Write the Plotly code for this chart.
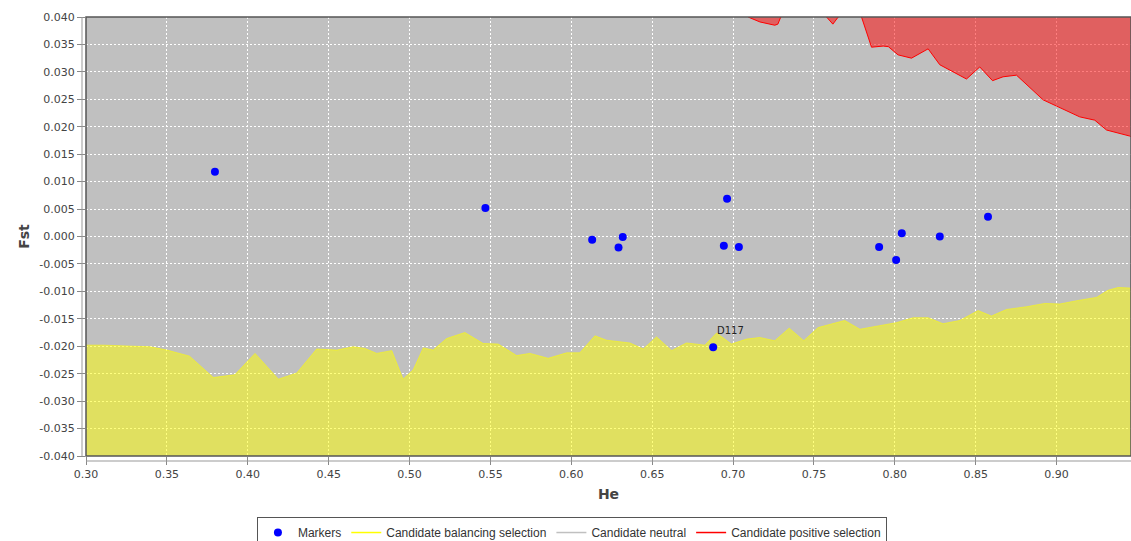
import plotly.graph_objects as go

# ---- data ----
marker_he = [0.3797, 0.5469, 0.6129, 0.6318, 0.6292, 0.6963, 0.6943, 0.7036, 0.6877,
             0.7903, 0.8008, 0.8043, 0.8278, 0.8576]
marker_fst = [0.0118, 0.0052, -0.0006, -0.0001, -0.0020, 0.0069, -0.0017, -0.0019, -0.0202,
              -0.0019, -0.0043, 0.0006, 0.0000, 0.0036]
marker_names = ["", "", "", "", "", "", "", "", "D117", "", "", "", "", ""]

bal_he = [0.300, 0.3105, 0.3396, 0.350, 0.364, 0.3787, 0.392, 0.4045, 0.4189, 0.4302,
          0.4426, 0.455, 0.4652, 0.4724, 0.4797, 0.489, 0.496, 0.5023, 0.5085, 0.5146,
          0.5229, 0.5342, 0.5455, 0.5548, 0.5662, 0.5744, 0.5857, 0.5971, 0.6053, 0.6146,
          0.6218, 0.6362, 0.6445, 0.6527, 0.662, 0.6712, 0.6826, 0.6898, 0.699, 0.7083,
          0.7165, 0.7258, 0.7347, 0.7437, 0.7526, 0.769, 0.7784, 0.7887, 0.801, 0.8113,
          0.8206, 0.8298, 0.8402, 0.8515, 0.8597, 0.869, 0.8814, 0.8927, 0.902, 0.9143,
          0.9247, 0.9318, 0.938, 0.946]
bal_fst = [-0.0198, -0.0198, -0.0201, -0.0207, -0.0218, -0.0257, -0.0252, -0.0213, -0.0260, -0.0249,
           -0.0205, -0.0207, -0.0201, -0.0204, -0.0213, -0.0208, -0.0260, -0.0243, -0.0203, -0.0207,
           -0.0186, -0.0175, -0.0195, -0.0196, -0.0217, -0.0213, -0.0222, -0.0212, -0.0212, -0.0181,
           -0.0189, -0.0194, -0.0205, -0.0183, -0.0208, -0.0194, -0.0198, -0.0176, -0.0196, -0.0187,
           -0.0184, -0.0190, -0.0167, -0.0190, -0.0166, -0.0153, -0.0169, -0.0163, -0.0157, -0.0148,
           -0.0148, -0.0159, -0.0153, -0.0135, -0.0145, -0.0133, -0.0128, -0.0122, -0.0123, -0.0116,
           -0.0111, -0.0098, -0.0093, -0.0094]

pos_he = [0.30, 0.40, 0.50, 0.60, 0.68, 0.707, 0.7093, 0.7166, 0.7258, 0.7277, 0.7295, 0.745,
          0.756, 0.7578, 0.7617, 0.765, 0.772, 0.7794, 0.7856, 0.7928, 0.796, 0.802, 0.8103,
          0.8206, 0.8278, 0.8443, 0.8525, 0.8604, 0.8669, 0.8752, 0.8917, 0.904, 0.9143,
          0.9236, 0.9309, 0.9453, 0.946]
pos_fst = [0.052, 0.050, 0.048, 0.046, 0.044, 0.0410, 0.0400, 0.0391, 0.0385, 0.0387, 0.0400, 0.0425,
           0.0405, 0.0400, 0.0387, 0.0400, 0.0420, 0.0400, 0.0345, 0.0347, 0.0346, 0.0331, 0.0325,
           0.0342, 0.0313, 0.0287, 0.0309, 0.0284, 0.0291, 0.0294, 0.0249, 0.0232, 0.0218,
           0.0212, 0.0194, 0.0183, 0.0182]

X_RANGE = [0.30, 0.946]
Y_RANGE = [-0.040, 0.040]
FLOOR = -0.06
CEIL = 0.06

x_ticks = [0.30, 0.35, 0.40, 0.45, 0.50, 0.55, 0.60, 0.65, 0.70, 0.75, 0.80, 0.85, 0.90]
x_tick_text = ["0.30", "0.35", "0.40", "0.45", "0.50", "0.55", "0.60", "0.65", "0.70",
               "0.75", "0.80", "0.85", "0.90"]
y_ticks = [-0.040, -0.035, -0.030, -0.025, -0.020, -0.015, -0.010, -0.005, 0.000,
           0.005, 0.010, 0.015, 0.020, 0.025, 0.030, 0.035, 0.040]
y_tick_text = ["-0.040", "-0.035", "-0.030", "-0.025", "-0.020", "-0.015", "-0.010", "-0.005",
               "0.000", "0.005", "0.010", "0.015", "0.020", "0.025", "0.030", "0.035", "0.040"]

fig = go.Figure()

# balancing selection area (yellow)
fig.add_trace(go.Scatter(x=[bal_he[0], bal_he[-1]], y=[FLOOR, FLOOR], mode="lines",
                         line=dict(width=0), showlegend=False, hoverinfo="skip"))
fig.add_trace(go.Scatter(x=bal_he, y=bal_fst, mode="lines", fill="tonexty",
                         fillcolor="rgba(255,255,0,0.5)",
                         line=dict(color="rgba(255,255,0,0.55)", width=1),
                         showlegend=False, hoverinfo="skip"))
# positive selection area (red)
fig.add_trace(go.Scatter(x=[pos_he[0], pos_he[-1]], y=[CEIL, CEIL], mode="lines",
                         line=dict(width=0), showlegend=False, hoverinfo="skip"))
fig.add_trace(go.Scatter(x=pos_he, y=pos_fst, mode="lines", fill="tonexty",
                         fillcolor="rgba(255,0,0,0.5)",
                         line=dict(color="#FF0000", width=1),
                         showlegend=False, hoverinfo="skip"))

# markers
fig.add_trace(go.Scatter(x=marker_he, y=marker_fst, mode="markers", name="Markers",
                         marker=dict(color="#0000FF", size=8), text=marker_names))

# legend entries
fig.add_trace(go.Scatter(x=[None], y=[None], mode="lines", name="Candidate balancing selection",
                         line=dict(color="#FFFF00", width=1.5)))
fig.add_trace(go.Scatter(x=[None], y=[None], mode="lines", name="Candidate neutral",
                         line=dict(color="#C0C0C0", width=1.5)))
fig.add_trace(go.Scatter(x=[None], y=[None], mode="lines", name="Candidate positive selection",
                         line=dict(color="#FF0000", width=1.5)))

# label for named markers
for hx, fy, nm in zip(marker_he, marker_fst, marker_names):
    if nm:
        fig.add_annotation(x=hx, y=fy, text=nm, showarrow=False, xanchor="left", yanchor="bottom",
                           xshift=2, yshift=9, font=dict(family="DejaVu Sans", size=10, color="#222"))

axis_font = dict(family="DejaVu Sans", size=11, color="#444")
fig.update_xaxes(range=X_RANGE, tickvals=x_ticks, ticktext=x_tick_text, tickfont=axis_font,
                 showgrid=True, gridcolor="white", griddash="2px,2px", gridwidth=1,
                 zeroline=False, showline=False, ticks="outside", ticklen=8, tickcolor="#888",
                 automargin=False,
                 title=dict(text="<b>He</b>", font=dict(family="DejaVu Sans", size=14, color="#444"),
                            standoff=8))
fig.update_yaxes(range=Y_RANGE, tickvals=y_ticks, ticktext=y_tick_text, tickfont=axis_font,
                 showgrid=True, gridcolor="white", griddash="2px,2px", gridwidth=1,
                 zeroline=False, showline=False, ticks="outside", ticklen=8, tickcolor="#888",
                 automargin=False,
                 title=dict(text="<b>Fst</b>", font=dict(family="DejaVu Sans", size=14, color="#444"),
                            standoff=6))

# plot border and offset axis lines
fig.add_shape(type="rect", xref="paper", yref="paper", x0=0, x1=1, y0=0, y1=1,
              line=dict(color="#555555", width=1.5), layer="above")
fig.add_shape(type="line", xref="paper", yref="paper", x0=-4/1045, x1=-4/1045, y0=0, y1=1,
              line=dict(color="#999999", width=1))
fig.add_shape(type="line", xref="paper", yref="paper", x0=0, x1=1, y0=-5/439, y1=-5/439,
              line=dict(color="#999999", width=1))

fig.update_layout(
    width=1131, height=541,
    margin=dict(l=86, r=0, t=17, b=85, autoexpand=False),
    paper_bgcolor="white", plot_bgcolor="#C0C0C0",
    showlegend=True,
    legend=dict(orientation="h", x=0.465, xanchor="center", y=-0.139, yanchor="top",
                bgcolor="white", bordercolor="#555555", borderwidth=1,
                font=dict(family="Liberation Sans", size=12, color="#333"),
                itemwidth=30, tracegroupgap=0, traceorder="normal"),
)

fig.write_html("out.html", config={"displayModeBar": False},
               post_script="document.body.style.margin='0';document.body.style.overflow='hidden';")
